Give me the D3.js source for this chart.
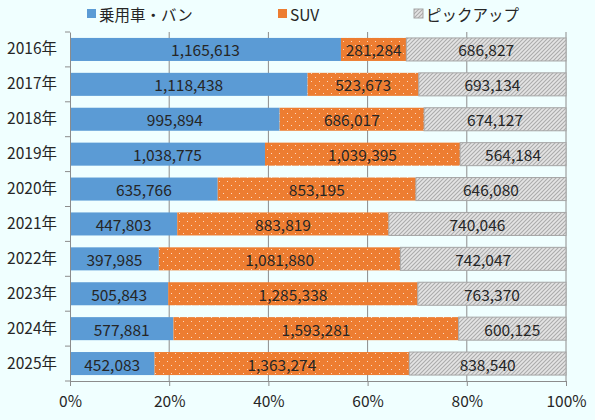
<!DOCTYPE html>
<html>
<head>
<meta charset="utf-8">
<script src="https://cdn.jsdelivr.net/npm/d3@7"></script>
<style>
  body { margin: 0; background: #F0FFFF; }
  text { font-family: "Noto Sans CJK JP", "Noto Sans", sans-serif; }
</style>
</head>
<body>
<div id="chart"></div>
<script>
const years = ["2016年", "2017年", "2018年", "2019年", "2020年", "2021年", "2022年", "2023年", "2024年", "2025年"];
const passenger = [1165613, 1118438, 995894, 1038775, 635766, 447803, 397985, 505843, 577881, 452083];
const suv = [281284, 523673, 686017, 1039395, 853195, 883819, 1081880, 1285338, 1593281, 1363274];
const pickup = [686827, 693134, 674127, 564184, 646080, 740046, 742047, 763370, 600125, 838540];
const seriesNames = ["乗用車・バン", "SUV", "ピックアップ"];
const xTicks = [0, 0.2, 0.4, 0.6, 0.8, 1];

const W = 595, H = 420;
const margin = {left: 70, right: 29, top: 32, bottom: 39};
const width = W - margin.left - margin.right;
const height = H - margin.top - margin.bottom;
const fontSize = "15.5px";

const rows = years.map((y, i) => ({year: y, p: passenger[i], s: suv[i], k: pickup[i]}));
const keys = ["p", "s", "k"];
const stack = d3.stack().keys(keys).offset(d3.stackOffsetExpand)(rows);

const svg = d3.select("#chart").append("svg")
    .attr("width", W).attr("height", H)
    .style("background", "#F0FFFF");

const defs = svg.append("defs");
const dots = defs.append("pattern").attr("id", "dots")
    .attr("patternUnits", "userSpaceOnUse").attr("width", 8).attr("height", 8);
dots.append("rect").attr("width", 8).attr("height", 8).attr("fill", "#ED7D31");
dots.append("rect").attr("x", 1).attr("y", 1).attr("width", 1).attr("height", 1).attr("fill", "#FBD9C2");
dots.append("rect").attr("x", 5).attr("y", 5).attr("width", 1).attr("height", 1).attr("fill", "#FBD9C2");

const hatch = defs.append("pattern").attr("id", "hatch")
    .attr("patternUnits", "userSpaceOnUse").attr("width", 4).attr("height", 4);
hatch.append("rect").attr("width", 4).attr("height", 4).attr("fill", "#E4E4E4");
hatch.append("path").attr("d", "M-1,1 l2,-2 M0,4 l4,-4 M3,5 l2,-2")
    .attr("stroke", "#ABABAB").attr("stroke-width", 1.1);

const fills = {p: "#5B9BD5", s: "url(#dots)", k: "url(#hatch)"};
const legendFills = {p: "#5B9BD5", s: "#ED7D31", k: "url(#hatch)"};

const g = svg.append("g").attr("transform", `translate(${margin.left},${margin.top})`);

const x = d3.scaleLinear().domain([0, 1]).range([0, width]);
const y = d3.scaleBand().domain(years).range([0, height]).paddingInner(0.34).paddingOuter(0.17);

// gridlines
g.selectAll(".grid").data(xTicks.slice(1)).enter().append("line")
    .attr("x1", d => x(d)).attr("x2", d => x(d))
    .attr("y1", 0).attr("y2", height)
    .attr("stroke", "#8C8C8C").attr("stroke-width", 1);

// bars
const layers = g.selectAll(".layer").data(stack).enter().append("g");
layers.selectAll("rect").data(d => d.map(v => ({v, key: d.key}))).enter().append("rect")
    .attr("x", d => x(d.v[0]))
    .attr("y", d => y(d.v.data.year))
    .attr("width", d => x(d.v[1]) - x(d.v[0]))
    .attr("height", y.bandwidth())
    .attr("fill", d => fills[d.key])
    .attr("stroke", d => d.key === "k" ? "#A6A6A6" : "none")
    .attr("stroke-width", 1);

layers.selectAll("text").data(d => d.map(v => ({v, key: d.key}))).enter().append("text")
    .attr("x", d => x((d.v[0] + d.v[1]) / 2))
    .attr("y", d => y(d.v.data.year) + y.bandwidth() / 2)
    .attr("text-anchor", "middle")
    .attr("dominant-baseline", "central")
    .attr("font-size", fontSize)
    .attr("fill", "#262626")
    .text(d => d3.format(",")(d.v.data[d.key]));

// y axis
const yAxis = g.append("g").call(d3.axisLeft(y).tickSize(0).tickPadding(13));
yAxis.select(".domain").attr("stroke", "#8C8C8C");
yAxis.selectAll("text").attr("font-size", fontSize).attr("fill", "#262626");
const step = y.step();
const boundaries = d3.range(years.length + 1).map(i => i * step);
yAxis.selectAll(".ytick").data(boundaries).enter().append("line")
    .attr("x1", -5).attr("x2", 0).attr("y1", d => d).attr("y2", d => d)
    .attr("stroke", "#8C8C8C");

// x axis
const xAxis = g.append("g").attr("transform", `translate(0,${height})`)
    .call(d3.axisBottom(x).tickValues(xTicks).tickFormat(d3.format(".0%")).tickSizeInner(5).tickSizeOuter(0).tickPadding(10));
xAxis.select(".domain").attr("stroke", "#8C8C8C");
xAxis.selectAll("line").attr("stroke", "#8C8C8C");
xAxis.selectAll("text").attr("font-size", fontSize).attr("fill", "#262626");

// legend
const legendX = [87, 278, 414];
const legend = svg.append("g");
keys.forEach((k, i) => {
    legend.append("rect").attr("x", legendX[i]).attr("y", 9).attr("width", 9).attr("height", 9)
        .attr("fill", legendFills[k]).attr("stroke", k === "k" ? "#A6A6A6" : "none");
    legend.append("text").attr("x", legendX[i] + 12).attr("y", 14)
        .attr("dominant-baseline", "central").attr("font-size", fontSize).attr("fill", "#262626")
        .text(seriesNames[i]);
});
</script>
</body>
</html>
